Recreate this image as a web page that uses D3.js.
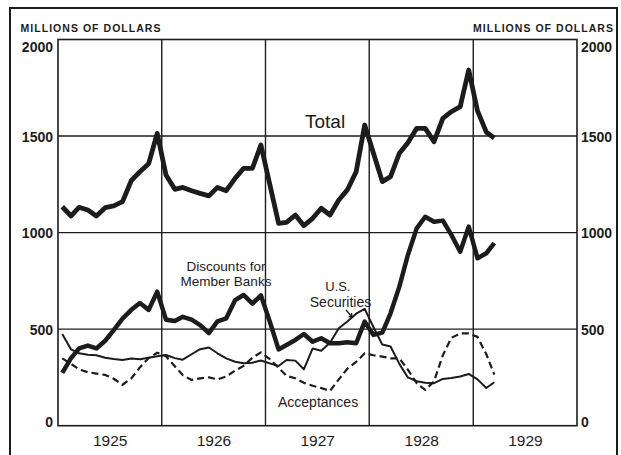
<!DOCTYPE html>
<html>
<head>
<meta charset="utf-8">
<script src="https://cdn.jsdelivr.net/npm/d3@7"></script>
<style>
  body { margin: 0; background: #fff; }
  svg { display: block; }
  text { fill: #1c1c1c; font-family: "Liberation Sans", Arial, sans-serif; }
</style>
</head>
<body>
<script>
// monthly averages, Jan 1925 .. Mar 1929 (millions of dollars)
var startYear = 1925;
var years = [1925, 1926, 1927, 1928, 1929];
var yTicks = [0, 500, 1000, 1500, 2000];

var total = [
  1134, 1086, 1131, 1117, 1086, 1129, 1138, 1160, 1270, 1315, 1357, 1514,
  1298, 1224, 1234, 1217, 1203, 1190, 1234, 1217, 1281, 1333, 1333, 1454,
  1250, 1048, 1053, 1091, 1036, 1074, 1126, 1091, 1169, 1221, 1315, 1557,
  1411, 1264, 1290, 1411, 1465, 1540, 1540, 1471, 1592, 1626, 1652, 1842,
  1630, 1520, 1490
];
var discounts = [
  274, 350, 400, 415, 400, 440, 495, 555, 600, 635, 600, 694,
  549, 542, 564, 549, 521, 480, 540, 556, 650, 677, 632, 675,
  540, 395, 418, 444, 475, 435, 453, 427, 427, 432, 427, 539,
  470, 482, 582, 720, 884, 1022, 1082, 1056, 1062, 988, 901, 1031,
  867, 893, 945
];
var securities = [
  475, 395, 375, 368, 365, 352, 345, 340, 348, 344, 352, 360,
  366, 350, 342, 370, 396, 405, 375, 349, 331, 323, 326, 338,
  323, 309, 340, 337, 292, 400, 388, 430, 505, 540, 580, 605,
  510, 420, 410, 320, 250, 230, 222, 220, 242, 247, 255, 268,
  240, 195, 225
];
var acceptances = [
  349, 320, 292, 277, 270, 263, 243, 212, 245, 302, 350, 378,
  360, 308, 262, 237, 245, 250, 240, 255, 285, 310, 352, 380,
  345, 300, 258, 246, 222, 207, 195, 180, 240, 295, 330, 375,
  365, 358, 349, 349, 290, 220, 185, 230, 365, 455, 478, 478,
  460, 370, 265
];

var width = 621, height = 455;
var plotL = 58, plotR = 577, plotT = 39.5, plotB = 425.7;
var ink = "#1c1c1c";

var svg = d3.select("body").append("svg")
  .attr("width", width)
  .attr("height", height);

var x = d3.scaleUtc()
  .domain([Date.UTC(startYear, 0, 1), Date.UTC(startYear + 5, 0, 1)])
  .range([plotL, plotR]);
var y = d3.scaleLinear().domain([0, 2000]).range([plotB, plotT]);

function monthDate(i) { return Date.UTC(startYear, i, 16); }

// outer frame (runs off the bottom of the page)
svg.append("rect")
  .attr("x", 10).attr("y", 8)
  .attr("width", 607).attr("height", 470)
  .attr("fill", "none").attr("stroke", ink).attr("stroke-width", 2);

// grid
svg.append("g").selectAll("line")
  .data(yTicks.slice(1, -1))
  .enter().append("line")
  .attr("x1", plotL).attr("x2", plotR)
  .attr("y1", function (d) { return y(d); })
  .attr("y2", function (d) { return y(d); })
  .attr("stroke", ink).attr("stroke-width", 1.4);

svg.append("g").selectAll("line")
  .data(years.slice(1))
  .enter().append("line")
  .attr("x1", function (d) { return x(Date.UTC(d, 0, 1)); })
  .attr("x2", function (d) { return x(Date.UTC(d, 0, 1)); })
  .attr("y1", plotT).attr("y2", plotB)
  .attr("stroke", ink).attr("stroke-width", 1.4);

svg.append("rect")
  .attr("x", plotL).attr("y", plotT)
  .attr("width", plotR - plotL).attr("height", plotB - plotT)
  .attr("fill", "none").attr("stroke", ink).attr("stroke-width", 1.6);

// axes
function styleAxis(g, size, weight) {
  g.select(".domain").remove();
  g.selectAll(".tick line").remove();
  g.attr("font-family", null).attr("font-size", null);
  g.selectAll("text")
    .style("font-size", size + "px")
    .style("font-weight", weight)
    .attr("fill", ink);
}
function nudge(g) {
  g.selectAll(".tick text").attr("dy", function (d) {
    if (d === 2000) return "0.85em";
    if (d === 0) return "0.05em";
    return "0.36em";
  });
}

svg.append("g")
  .attr("transform", "translate(" + plotL + ",0)")
  .call(d3.axisLeft(y).tickValues(yTicks).tickFormat(d3.format("d"))
    .tickSize(0).tickPadding(5))
  .call(styleAxis, 14, "bold")
  .call(nudge);

svg.append("g")
  .attr("transform", "translate(" + plotR + ",0)")
  .call(d3.axisRight(y).tickValues(yTicks).tickFormat(d3.format("d"))
    .tickSize(0).tickPadding(4))
  .call(styleAxis, 14, "bold")
  .call(nudge);

svg.append("g")
  .attr("transform", "translate(0," + plotB + ")")
  .call(d3.axisBottom(x)
    .tickValues(years.map(function (d) { return Date.UTC(d, 6, 2); }))
    .tickFormat(d3.utcFormat("%Y"))
    .tickSize(0).tickPadding(9))
  .call(styleAxis, 15.5, "normal");

// series
var line = d3.line()
  .x(function (d, i) { return x(monthDate(i)); })
  .y(function (d) { return y(d); });

function draw(values, w, dash) {
  svg.append("path")
    .datum(values)
    .attr("d", line)
    .attr("fill", "none")
    .attr("stroke", ink)
    .attr("stroke-width", w)
    .attr("stroke-linejoin", "round")
    .attr("stroke-dasharray", dash);
}
draw(acceptances, 2.2, "7,4");
draw(securities, 2, null);
draw(discounts, 4.5, null);
draw(total, 4.8, null);

// labels
svg.append("text").attr("x", 20.5).attr("y", 31.5)
  .attr("textLength", 140).attr("lengthAdjust", "spacing")
  .style("font-size", "10.5px").style("font-weight", "bold")
  .text("MILLIONS OF DOLLARS");
svg.append("text").attr("x", 473).attr("y", 31.5)
  .attr("textLength", 140).attr("lengthAdjust", "spacing")
  .style("font-size", "10.5px").style("font-weight", "bold")
  .text("MILLIONS OF DOLLARS");

svg.append("text").attr("x", 305).attr("y", 128)
  .style("font-size", "19px").text("Total");

svg.append("text").attr("x", 226).attr("y", 271)
  .attr("text-anchor", "middle").style("font-size", "13.5px")
  .text("Discounts for");
svg.append("text").attr("x", 226).attr("y", 286)
  .attr("text-anchor", "middle").style("font-size", "13.5px")
  .text("Member Banks");

svg.append("text").attr("x", 338).attr("y", 291)
  .attr("text-anchor", "middle").style("font-size", "13px")
  .text("U.S.");
svg.append("text").attr("x", 340.5).attr("y", 306.5)
  .attr("text-anchor", "middle").style("font-size", "14px")
  .text("Securities");
svg.append("path")
  .attr("d", "M346,310L352,317M348.5,316.5L352,317L351.5,313")
  .attr("fill", "none").attr("stroke", ink).attr("stroke-width", 1.3);

svg.append("text").attr("x", 278).attr("y", 407)
  .style("font-size", "14px").text("Acceptances");
</script>
</body>
</html>
